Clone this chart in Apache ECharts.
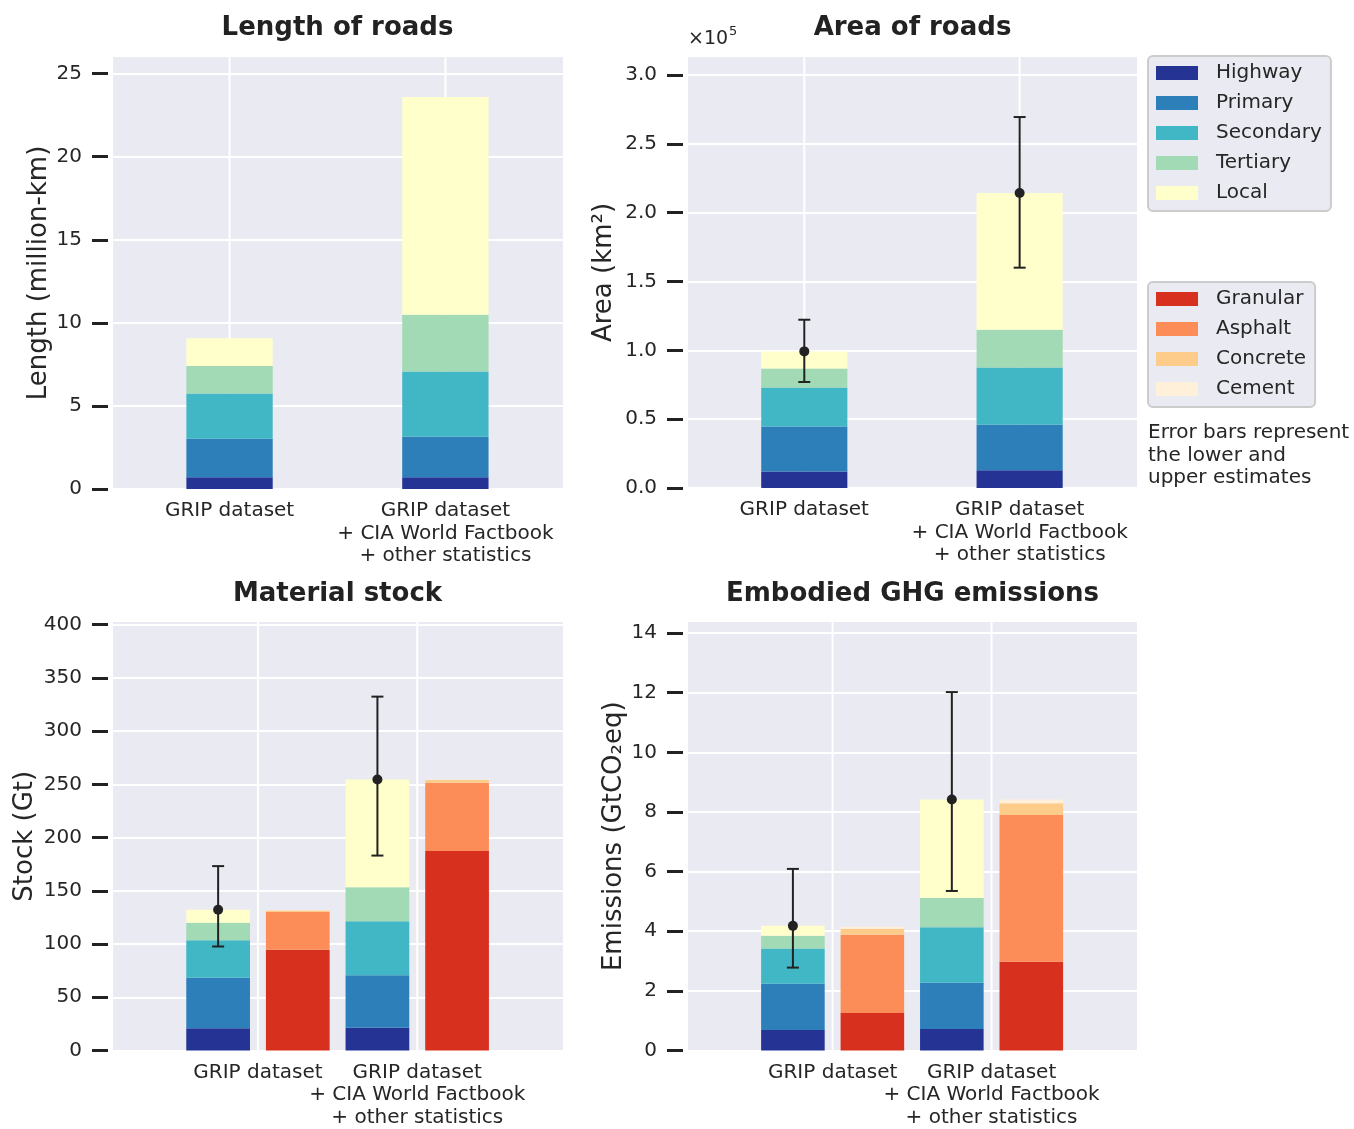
<!DOCTYPE html>
<html>
<head>
<meta charset="utf-8">
<title>Roads: length, area, material stock and embodied GHG emissions</title>
<script src="https://cdn.jsdelivr.net/npm/echarts@6/dist/echarts.min.js"></script>
<style>
  html, body { margin: 0; padding: 0; background: #fff; }
  #main { width: 1354px; height: 1129px; }
</style>
</head>
<body>
<div id="main"></div>
<script>
// categories and segment names
var catLabels = ['GRIP dataset', 'GRIP dataset\n+ CIA World Factbook\n+ other statistics'];
var roadTypes = ['Highway', 'Primary', 'Secondary', 'Tertiary', 'Local'];
var materials = ['Granular', 'Asphalt', 'Concrete', 'Cement'];

// length of roads (million km), one value per road type
var lengthGRIP = [0.70, 2.32, 2.73, 1.66, 1.67];
var lengthCIA  = [0.70, 2.44, 3.93, 3.42, 13.11];

// area of roads (km2)
var areaGRIP = [12000, 32700, 28300, 13800, 12400];
var areaCIA  = [12800, 33200, 41600, 27400, 99200];
var areaMean = [99200, 214200];
var areaLow  = [77000, 160000];
var areaHigh = [122200, 269400];

// material stock (Gt)
var stockRoadGRIP = [20.8, 47.5, 35.3, 16.5, 12.1];
var stockRoadCIA  = [21.4, 49.4, 50.5, 32.0, 101.2];
var stockMatGRIP  = [94.6, 35.4, 1.5, 0.3];
var stockMatCIA   = [187.4, 64.0, 2.8, 0.3];
var stockMean = [132.2, 254.5];
var stockLow  = [97.7, 183.1];
var stockHigh = [173.2, 332.4];

// embodied GHG emissions (GtCO2eq)
var ghgRoadGRIP = [0.69, 1.55, 1.18, 0.43, 0.33];
var ghgRoadCIA  = [0.72, 1.55, 1.86, 0.98, 3.31];
var ghgMatGRIP  = [1.26, 2.62, 0.20, 0.07];
var ghgMatCIA   = [2.98, 4.92, 0.39, 0.13];
var ghgMean = [4.18, 8.42];
var ghgLow  = [2.78, 5.35];
var ghgHigh = [6.09, 12.02];

// tick labels
var lengthTicks = [0, 5, 10, 15, 20, 25];
var areaTicks = [0, 50000, 100000, 150000, 200000, 250000, 300000];
var stockTicks = [0, 50, 100, 150, 200, 250, 300, 350, 400];
var ghgTicks = [0, 2, 4, 6, 8, 10, 12, 14];

// colours
var roadColors = ['#253494', '#2c7fb8', '#41b6c4', '#a1dab4', '#ffffcc'];
var matColors = ['#d7301f', '#fc8d59', '#fdcc8a', '#fef0d9'];

var FONT = 'DejaVu Sans';
var TXT = '#262626';
var BAR_W = 0.4;

var grids = [
  {left: 113, top: 57, width: 450, height: 432},
  {left: 688, top: 57, width: 449, height: 431},
  {left: 113, top: 622, width: 450, height: 432},
  {left: 688, top: 622, width: 449, height: 432}
];

var panels = [
  {title: 'Length of roads', yName: 'Length (million-km)', ticks: lengthTicks, yMax: 26, xMin: -0.54, xMax: 1.545, nameGap: 56,
   fmt: function (v) { return String(v); }},
  {title: 'Area of roads', yName: 'Area (km²)', ticks: areaTicks, yMax: 313000, xMin: -0.54, xMax: 1.545, nameGap: 66,
   fmt: function (v) { return (v / 1e5).toFixed(1); }},
  {title: 'Material stock', yName: 'Stock (Gt)', ticks: stockTicks, yMax: 402.5, xMin: -0.91, xMax: 1.915, nameGap: 70,
   fmt: function (v) { return String(v); }},
  {title: 'Embodied GHG emissions', yName: 'Emissions (GtCO₂eq)', ticks: ghgTicks, yMax: 14.37, xMin: -0.91, xMax: 1.915, nameGap: 56,
   fmt: function (v) { return String(v); }}
];

function renderSegment(params, api) {
  var x = api.value(0);
  var p0 = api.coord([x, api.value(1)]);
  var p1 = api.coord([x, api.value(2)]);
  var w = api.size([BAR_W, 0])[0];
  return {
    type: 'rect',
    shape: {x: p0[0] - w / 2, y: p1[1], width: w, height: p0[1] - p1[1]},
    style: {fill: api.visual('color')}
  };
}

function renderErr(params, api) {
  var x = api.value(0);
  var c = api.coord([x, api.value(1)]);
  var lo = api.coord([x, api.value(2)]);
  var hi = api.coord([x, api.value(3)]);
  var cap = 6;
  var st = {stroke: '#222', lineWidth: 2};
  return {type: 'group', children: [
    {type: 'line', shape: {x1: lo[0], y1: lo[1], x2: hi[0], y2: hi[1]}, style: st},
    {type: 'line', shape: {x1: lo[0] - cap, y1: lo[1], x2: lo[0] + cap, y2: lo[1]}, style: st},
    {type: 'line', shape: {x1: hi[0] - cap, y1: hi[1], x2: hi[0] + cap, y2: hi[1]}, style: st},
    {type: 'circle', shape: {cx: c[0], cy: c[1], r: 5}, style: {fill: '#222'}}
  ]};
}

function renderVGrid(params, api) {
  var cs = params.coordSys;
  var p = api.coord([api.value(0), 0]);
  return {type: 'line', shape: {x1: p[0], y1: cs.y, x2: p[0], y2: cs.y + cs.height},
    style: {stroke: '#fff', lineWidth: 2}};
}

var series = [];

// one custom series per segment type, bars = [[x, values], ...]
// x axis 2*p carries the data, x axis 2*p+1 only carries the second category label
function addStack(p, names, colors, bars) {
  names.forEach(function (name, i) {
    series.push({
      type: 'custom', name: name, xAxisIndex: 2 * p, yAxisIndex: p,
      itemStyle: {color: colors[i]},
      encode: {x: 0, y: [1, 2]},
      renderItem: renderSegment,
      z: 2,
      data: bars.map(function (b) {
        var base = 0;
        for (var k = 0; k < i; k++) base += b[1][k];
        return [b[0], base, base + b[1][i]];
      })
    });
  });
}

function addErr(p, xs, mean, low, high) {
  series.push({
    type: 'custom', name: 'err' + p, xAxisIndex: 2 * p, yAxisIndex: p, z: 5, silent: true,
    encode: {x: 0, y: [1, 2, 3]},
    renderItem: renderErr,
    data: xs.map(function (x, i) { return [x, mean[i], low[i], high[i]]; })
  });
}

for (var g = 0; g < 4; g++) {
  series.push({
    type: 'custom', name: 'grid' + g, xAxisIndex: 2 * g, yAxisIndex: g, z: 1, silent: true,
    encode: {x: 0}, renderItem: renderVGrid, data: [[0], [1]]
  });
}

addStack(0, roadTypes, roadColors, [[0, lengthGRIP], [1, lengthCIA]]);
addStack(1, roadTypes, roadColors, [[0, areaGRIP], [1, areaCIA]]);
addErr(1, [0, 1], areaMean, areaLow, areaHigh);
addStack(2, roadTypes, roadColors, [[-0.25, stockRoadGRIP], [0.75, stockRoadCIA]]);
addStack(2, materials, matColors, [[0.25, stockMatGRIP], [1.25, stockMatCIA]]);
addErr(2, [-0.25, 0.75], stockMean, stockLow, stockHigh);
addStack(3, roadTypes, roadColors, [[-0.25, ghgRoadGRIP], [0.75, ghgRoadCIA]]);
addStack(3, materials, matColors, [[0.25, ghgMatGRIP], [1.25, ghgMatCIA]]);
addErr(3, [-0.25, 0.75], ghgMean, ghgLow, ghgHigh);

var xAxes = [];
panels.forEach(function (pn, i) {
  [0, 1].forEach(function (c) {
    xAxes.push({
      type: 'value', gridIndex: i, position: 'bottom', offset: 0, min: pn.xMin, max: pn.xMax,
      axisLine: {show: false, onZero: false}, axisTick: {show: false, customValues: [c]}, splitLine: {show: false},
      axisLabel: {
        customValues: [c], showMinLabel: true, showMaxLabel: true,
        fontFamily: FONT, fontSize: 20, color: TXT, lineHeight: 22.5, margin: 11,
        formatter: function (v) { return catLabels[Math.round(v)]; }
      }
    });
  });
});

var yAxes = panels.map(function (pn, i) {
  var step = pn.ticks[1] - pn.ticks[0];
  return {
    type: 'value', gridIndex: i, position: 'left', min: 0, max: pn.yMax, interval: step, offset: 5,
    name: pn.yName, nameLocation: 'middle', nameGap: pn.nameGap,
    nameTextStyle: {fontFamily: FONT, fontSize: 26, color: TXT},
    axisLine: {show: false, onZero: false},
    axisTick: {show: true, length: 16, customValues: pn.ticks, lineStyle: {color: '#222', width: 3}},
    axisLabel: {customValues: pn.ticks, fontFamily: FONT, fontSize: 20, color: TXT, margin: 26, formatter: pn.fmt},
    splitLine: {show: true, lineStyle: {color: '#fff', width: 2}}
  };
});

var legendBase = {
  orient: 'vertical', left: 1148, icon: 'rect', itemWidth: 42, itemHeight: 14, itemGap: 10,
  padding: [7, 9, 8, 8], backgroundColor: '#EAEAF2', borderColor: '#cccccc', borderWidth: 2, borderRadius: 5,
  selectedMode: false,
  textStyle: {fontFamily: FONT, fontSize: 20, color: TXT, lineHeight: 20, padding: [0, 0, 0, 13]}
};

var graphics = [];
var titlePos = [[337.5, 28], [912.5, 28], [337.5, 594], [912.5, 594]];
panels.forEach(function (pn, i) {
  graphics.push({type: 'text', x: titlePos[i][0], y: titlePos[i][1],
    style: {text: pn.title, font: 'bold 26px "DejaVu Sans"', fill: '#222', textAlign: 'center', textVerticalAlign: 'middle'}});
});
graphics.push({type: 'text', x: 688, y: 39,
  style: {text: '×10', font: '19px "DejaVu Sans"', fill: TXT, textAlign: 'left', textVerticalAlign: 'middle'}});
graphics.push({type: 'text', x: 729, y: 32,
  style: {text: '5', font: '13px "DejaVu Sans"', fill: TXT, textAlign: 'left', textVerticalAlign: 'middle'}});
graphics.push({type: 'text', x: 1148, y: 422,
  style: {text: 'Error bars represent\nthe lower and\nupper estimates', font: '20px "DejaVu Sans"', fill: TXT,
    lineHeight: 22.5, textAlign: 'left', textVerticalAlign: 'top'}});

var myChart = echarts.init(document.getElementById('main'));
var option = {
  backgroundColor: '#ffffff',
  animation: false,
  grid: grids.map(function (gr) {
    return {left: gr.left, top: gr.top, width: gr.width, height: gr.height, show: true, backgroundColor: '#EAEAF2', borderWidth: 0};
  }),
  xAxis: xAxes,
  yAxis: yAxes,
  legend: [
    echarts.util.merge({data: roadTypes, top: 56}, legendBase),
    echarts.util.merge({data: materials, top: 282}, legendBase)
  ],
  graphic: graphics,
  series: series
};
myChart.setOption(option);
</script>
</body>
</html>
